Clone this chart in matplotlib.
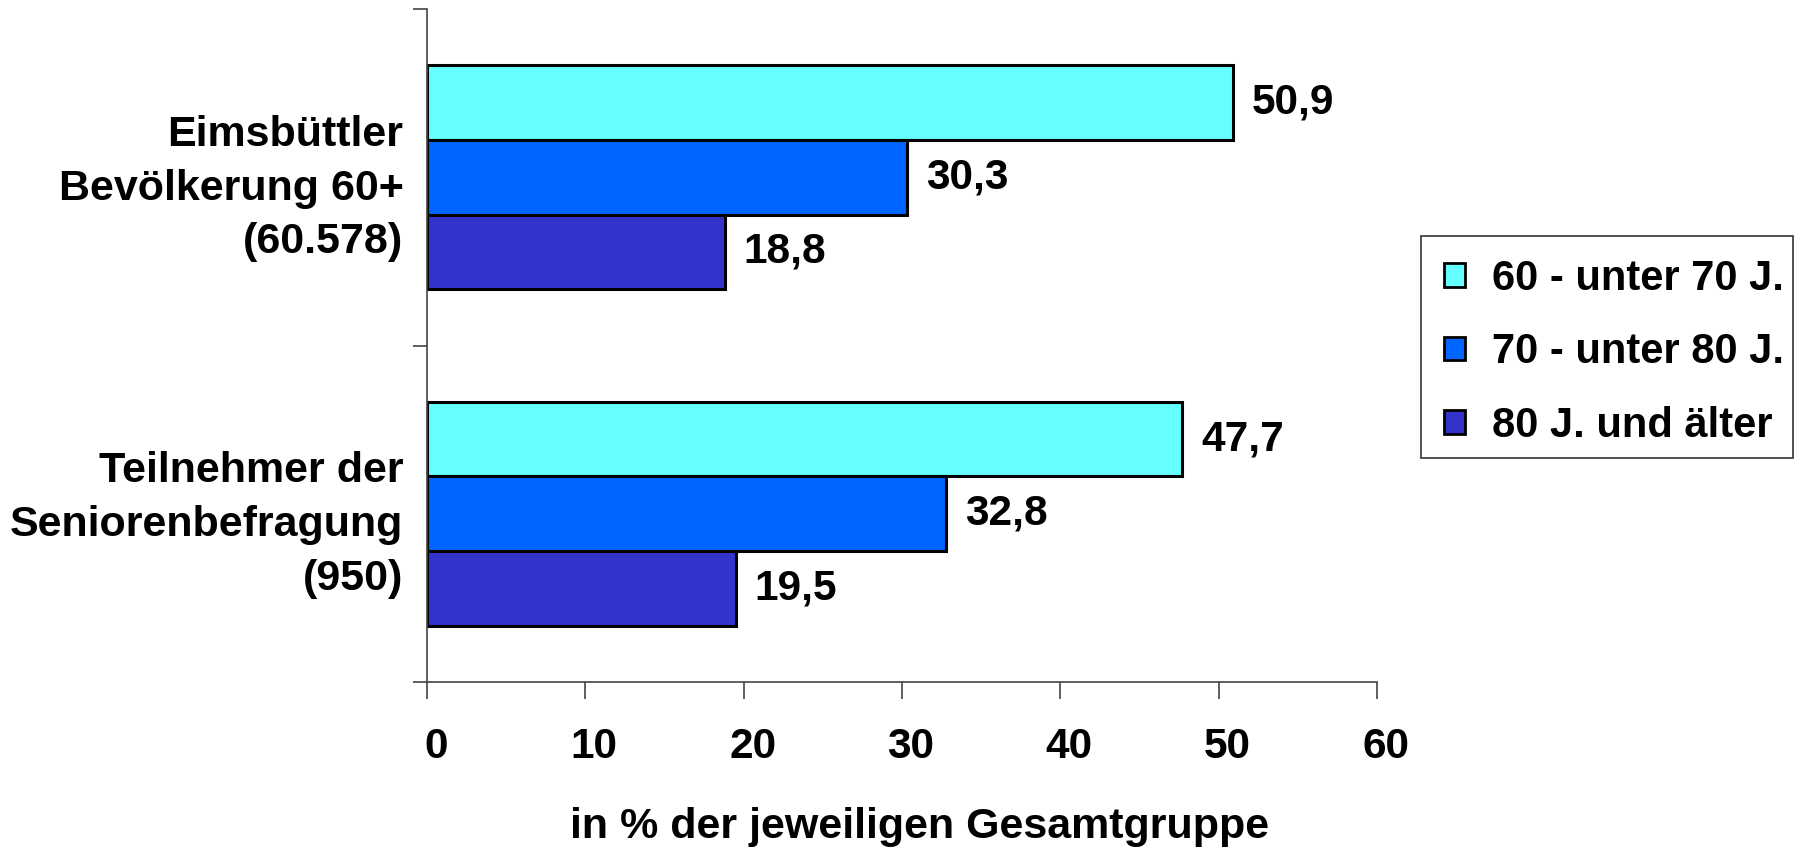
import matplotlib
matplotlib.use("Agg")
import matplotlib.pyplot as plt
import matplotlib.transforms as mtransforms
from matplotlib.patches import Rectangle
import numpy as np

categories = ["Eimsbüttler\nBevölkerung 60+\n(60.578)", "Teilnehmer der\nSeniorenbefragung\n(950)"]
series_names = ["60 - unter 70 J.", "70 - unter 80 J.", "80 J. und älter"]
values_60_70 = [50.9, 47.7]
values_70_80 = [30.3, 32.8]
values_80_plus = [18.8, 19.5]
value_labels_60_70 = ["50,9", "47,7"]
value_labels_70_80 = ["30,3", "32,8"]
value_labels_80_plus = ["18,8", "19,5"]
colors = ["#66FFFF", "#0066FF", "#3333CC"]
xticks = [0, 10, 20, 30, 40, 50, 60]
xlabel = "in % der jeweiligen Gesamtgruppe"

plt.rcParams['font.family'] = ['Liberation Sans', 'DejaVu Sans']
plt.rcParams['font.weight'] = 'bold'

W, H = 1801, 852
fig = plt.figure(figsize=(W/100, H/100), dpi=100)
ax = fig.add_axes([427/W, 1-682/H, (1377-427)/W, (682-9)/H])

series = [values_60_70, values_70_80, values_80_plus]
labels = [value_labels_60_70, value_labels_70_80, value_labels_80_plus]
bh = 0.222
y = np.arange(len(categories))
offset_tr = mtransforms.offset_copy(ax.transData, fig=fig, x=19, y=0, units='dots')
for i, (vals, labs, col, name) in enumerate(zip(series, labels, colors, series_names)):
    pos = y + (i - 1) * bh
    ax.barh(pos, vals, height=bh, color=col, edgecolor='black', linewidth=2.2, label=name)
    for p, v, l in zip(pos, vals, labs):
        ax.text(v, p, l, transform=offset_tr, ha='left', va='center',
                fontsize=30.5, fontweight='bold')

ax.set_xlim(0, 60)
ax.set_ylim(1.5, -0.5)
ax.set_xticks(xticks)
ax.set_xticklabels([])
# x tick labels drawn slightly right of their ticks, as in the reference
xt_tr = mtransforms.blended_transform_factory(ax.transData, fig.transFigure) + \
    mtransforms.ScaledTranslation(9/100, 0, fig.dpi_scale_trans)
for t in xticks:
    ax.text(t, 1-747/H, str(t), transform=xt_tr, ha='center', va='center',
            fontsize=30.5, fontweight='bold', clip_on=False)

ax.set_yticks([-0.5, 0.5, 1.5], minor=False)
ax.set_yticklabels([])
ax.set_yticks(y, minor=True)
ax.set_yticklabels(categories, minor=True, fontsize=31, fontweight='bold', ha='right',
                   linespacing=1.44)
ax.tick_params(axis='y', which='minor', length=0, pad=17)
ax.tick_params(axis='y', which='major', length=10, width=1.2, color='#444444')
ax.tick_params(axis='x', length=12, width=1.2, color='#444444')
for s in ['top', 'right']:
    ax.spines[s].set_visible(False)
for s in ['left', 'bottom']:
    ax.spines[s].set_color('#444444')
    ax.spines[s].set_linewidth(1.2)

fig.text(920/W, 1-827/H, xlabel, ha='center', va='center', fontsize=31, fontweight='bold')

leg = fig.legend(loc='upper left', bbox_to_anchor=(1421/W, 1-236/H), borderaxespad=0,
                 frameon=False,
                 handlelength=0.5, handleheight=0.5, handletextpad=0.65,
                 labelspacing=0.8, borderpad=0.55, prop={'weight': 'bold', 'size': 30})
for h in leg.legend_handles:
    h.set_linewidth(2)
# legend frame (the reference's box has a narrow right margin)
fig.patches.append(Rectangle((1421/W, 1-458/H), (1793-1421)/W, (458-236)/H,
                             transform=fig.transFigure, fill=False,
                             edgecolor='#333333', linewidth=1.2))

fig.savefig("out.png", dpi=100)
